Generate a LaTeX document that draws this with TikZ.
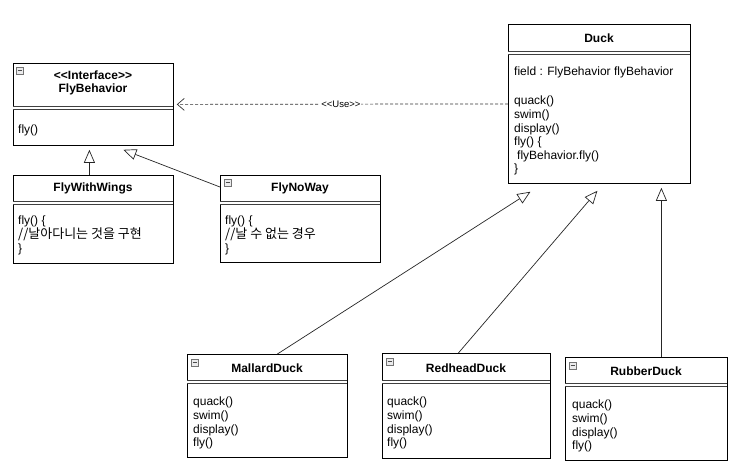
\documentclass[tikz,border=0pt]{standalone}
\usepackage{fontspec}
\setmainfont{Liberation Sans}
\newfontfamily\kr{Noto Sans CJK KR}
\usetikzlibrary{arrows.meta}

\begin{document}
\begin{tikzpicture}[x = 1pt, y = -1pt,
    every node/.style = {font = \fontsize{12}{13.6}\selectfont},
    cls/.style = {draw = black, line width = .8pt, anchor = north west, inner sep = 0pt, fill = white},
    ttl/.style = {font = \fontsize{12}{13.6}\selectfont\bfseries, align = center, inner sep = 0pt},
    txt/.style = {anchor = north west, align = left, inner sep = 0pt},
    sep/.style = {draw = black!75, double, double distance = 2.2pt, line width = .7pt},
    inh/.style = {draw = black!85, line width = .7pt, -{Triangle[open, length = 13pt, width = 11pt]}},
    use/.style = {draw = black!80, line width = .7pt, dash pattern = on 3pt off 2pt, shorten > = 3pt, -{Straight Barb[length = 7pt, width = 12pt]}},
    minus/.pic = {\draw [draw = black!55, fill = blue!5!black!8, line width = .5pt] (0, 0) rectangle (7, 7);
                  \draw [black!70, line width = .7pt] (1.5, 3.5) -- (5.5, 3.5);}]

    \fill [white] (0, 0) rectangle (737, 471);
    \useasboundingbox (0, 0) rectangle (737, 471);

    % FlyBehavior
    \node [cls, minimum width = 160pt, minimum height = 82pt] (flybeh) at (13, 63) {};
    \pic at ([shift = {(3, 4)}]flybeh.north west) {minus};
    \node [ttl] (flybeh-t) at (93, 83) {<\kern0pt<Interface>\kern0pt>\\FlyBehavior};
    \draw [sep] (13, 108) -- (173, 108);
    \node [txt] (flybeh-b) at (18, 125) {fly()};

    \node [cls, minimum width = 160pt, minimum height = 88pt] (wings) at (13, 175) {};
    \node [ttl] (wings-t) at (93, 188) {FlyWithWings};
    \draw [sep] (13, 203) -- (173, 203);
    \node [txt] (wings-b) at (18, 216) {fly() \{\\{\kr\fontsize{13}{13.6}\selectfont //날아다니는 것을 구현}\\\}};

    \node [cls, minimum width = 160pt, minimum height = 87pt] (noway) at (220, 175) {};
    \pic at ([shift = {(4, 4)}]noway.north west) {minus};
    \node [ttl] (noway-t) at (300, 188) {FlyNoWay};
    \draw [sep] (220, 203) -- (380, 203);
    \node [txt] (noway-b) at (225, 216) {fly() \{\\{\kr\fontsize{13}{13.6}\selectfont //날 수 없는 경우}\\\}};

    % Duck
    \node [cls, minimum width = 182pt, minimum height = 159pt] (duck) at (508, 24) {};
    \node [ttl] (duck-t) at (599, 38) {Duck};
    \draw [sep] (508, 53) -- (690, 53);
    \node [txt] (duck-f) at (514, 67) {field : FlyBehavior flyBehavior};
    \node [txt] (duck-m) at (514, 96) {quack()\\swim()\\display()\\fly() \{\\\hspace*{3pt}flyBehavior.fly()\\\}};

    %%%%%%%%%%%%%%%%%%%%
    \node [cls, minimum width = 160pt, minimum height = 103pt] (mallard) at (187, 354) {};
    \pic at ([shift = {(4, 5)}]mallard.north west) {minus};
    \node [ttl] (mallard-t) at (267, 368) {MallardDuck};
    \draw [sep] (187, 382) -- (347, 382);
    \node [txt] (mallard-b) at (193, 397) {quack()\\swim()\\display()\\fly()};

    \node [cls, minimum width = 168pt, minimum height = 105pt] (redhead) at (382, 353) {};
    \pic at ([shift = {(4, 5)}]redhead.north west) {minus};
    \node [ttl] (redhead-t) at (466, 368) {RedheadDuck};
    \draw [sep] (382, 382) -- (550, 382);
    \node [txt] (redhead-b) at (387, 397) {quack()\\swim()\\display()\\fly()};

    \node [cls, minimum width = 162pt, minimum height = 103pt] (rubber) at (565, 357) {};
    \pic at ([shift = {(4, 5)}]rubber.north west) {minus};
    \node [ttl] (rubber-t) at (646, 371) {RubberDuck};
    \draw [sep] (565, 385) -- (727, 385);
    \node [txt] (rubber-b) at (572, 400) {quack()\\swim()\\display()\\fly()};

    % arrows
    \draw [use] (duck.west) -- node [fill = white, inner sep = 1pt, font = \fontsize{9.5}{10}\selectfont] (use-l) {<\kern0pt<Use>\kern0pt>} (flybeh.east);
    \draw [inh] ([xshift = -4pt]wings.north) -- ([xshift = -4pt, yshift = -4pt]flybeh.south);
    \draw [inh] ([yshift = -12pt]noway.north west) -- ([xshift = 30pt, yshift = -4pt]flybeh.south);
    \draw [inh] ([xshift = 10pt]mallard.north) -- ([xshift = -69pt, yshift = -8pt]duck.south);
    \draw [inh] ([xshift = -8pt]redhead.north) -- ([xshift = -2pt, yshift = -7pt]duck.south);
    \draw [inh] ([xshift = 15pt]rubber.north) -- ([xshift = 62pt, yshift = -4pt]duck.south);
\end{tikzpicture}
\end{document}
